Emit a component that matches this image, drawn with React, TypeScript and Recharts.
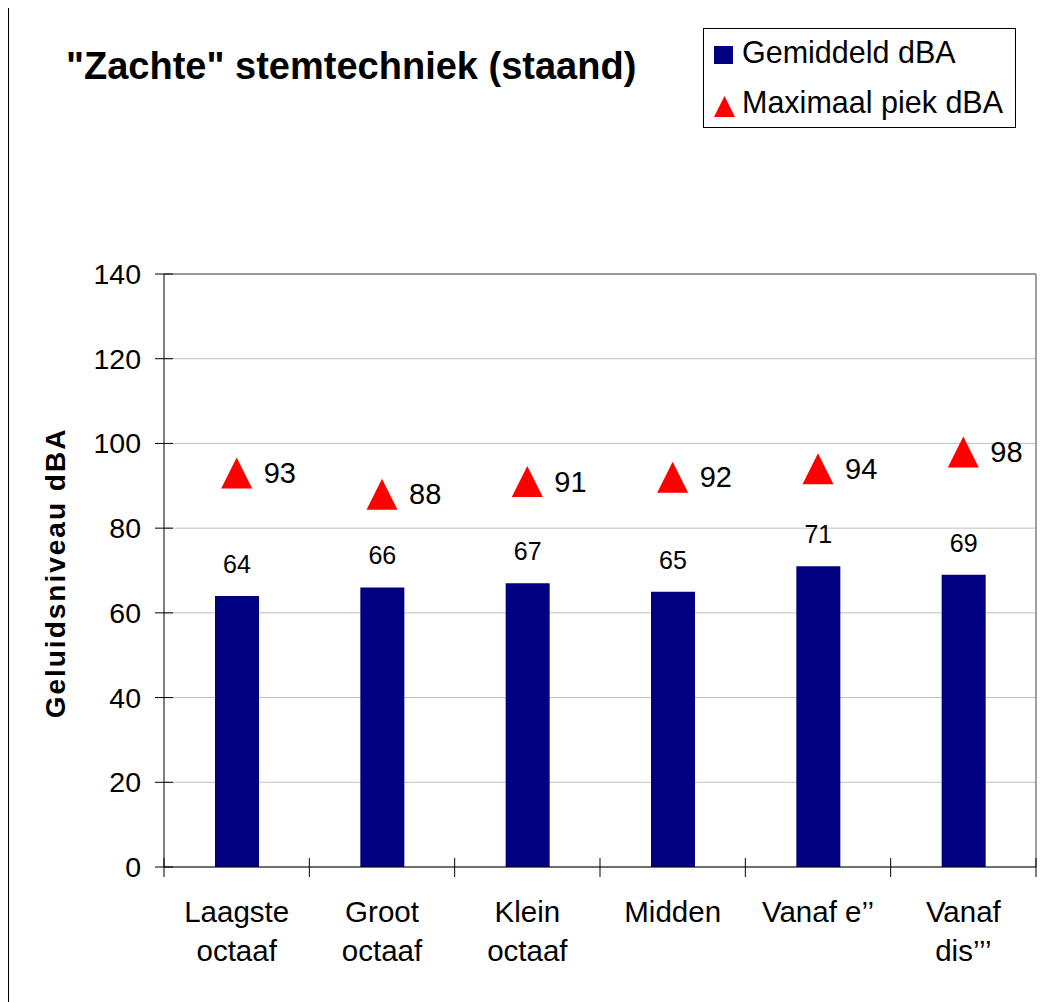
import React from 'react';
import {
  ComposedChart,
  Bar,
  Line,
  XAxis,
  YAxis,
  CartesianGrid,
  LabelList,
} from 'recharts';

const categories = [
  'Laagste\noctaaf',
  'Groot\noctaaf',
  'Klein\noctaaf',
  'Midden',
  'Vanaf e\u2019\u2019',
  'Vanaf\ndis\u2019\u2019\u2019',
];
const gemiddeld = [64, 66, 67, 65, 71, 69];
const maximaal = [93, 88, 91, 92, 94, 98];
const yTicks = [0, 20, 40, 60, 80, 100, 120, 140];

const data = categories.map((name, i) => ({
  name,
  gem: gemiddeld[i],
  max: maximaal[i],
}));

const FONT = '"Liberation Sans", Arial, Helvetica, sans-serif';
const NAVY = '#000080';
const RED = '#FF0000';

const Y_TICK_SIZE = 9;
const Y_TICK_MARGIN = 14;

const YTick = (props: any) => {
  const { x, y, payload } = props;
  const ax = x + Y_TICK_SIZE + Y_TICK_MARGIN;
  return (
    <g>
      <line x1={ax - 9} x2={ax + 9} y1={y} y2={y} stroke="#000" strokeWidth={1} />
      <text
        x={x}
        y={y}
        textAnchor="end"
        dominantBaseline="central"
        fontSize={28.5}
        fontFamily={FONT}
        fill="#000"
      >
        {payload.value}
      </text>
    </g>
  );
};

const XTick = (props: any) => {
  const { x, y, payload, index, visibleTicksCount, width } = props;
  let half = payload && typeof payload.offset === 'number' && payload.offset > 0 ? payload.offset : 0;
  if (!half && width && visibleTicksCount) half = width / visibleTicksCount / 2;
  const lines = String(payload.value).split('\n');
  return (
    <g>
      {index === 0 && (
        <line x1={x - half} x2={x - half} y1={y - 9} y2={y + 10} stroke="#000" />
      )}
      <line x1={x + half} x2={x + half} y1={y - 9} y2={y + 10} stroke="#000" />
      <text x={x} y={y + 55} textAnchor="middle" fontSize={29.5} fontFamily={FONT} fill="#000">
        {lines.map((l, i) => (
          <tspan key={i} x={x} dy={i === 0 ? 0 : 39}>
            {l}
          </tspan>
        ))}
      </text>
    </g>
  );
};

const Triangle = (props: any) => {
  const { cx, cy } = props;
  if (cx == null || cy == null) return <g />;
  const h = 15.5;
  return (
    <polygon
      points={`${cx},${cy - h} ${cx + h},${cy + h} ${cx - h},${cy + h}`}
      fill={RED}
      stroke="none"
    />
  );
};

const PeakLabel = (props: any) => {
  const { x, y, value } = props;
  return (
    <text
      x={x + 27}
      y={y}
      dominantBaseline="central"
      fontSize={29}
      fontFamily={FONT}
      fill="#000"
    >
      {value}
    </text>
  );
};

export default function App() {
  return (
    <div
      style={{
        position: 'relative',
        width: 1046,
        height: 995,
        marginTop: -1,
        borderTop: '1px solid #000',
        borderLeft: '1px solid #000',
        boxSizing: 'border-box',
        fontFamily: FONT,
        background: '#fff',
      }}
    >
      <div style={{ position: 'absolute', left: 0, top: 0 }}>
        <ComposedChart
          width={1045}
          height={994}
          data={data}
          margin={{ top: 266, right: 18, bottom: 0, left: 0 }}
        >
          <CartesianGrid vertical={false} stroke="#c0c0c0" />
          <CartesianGrid
            stroke="#808080"
            strokeWidth={1.5}
            horizontalCoordinatesGenerator={({ offset }: any) => [offset.top]}
            verticalCoordinatesGenerator={({ offset }: any) => [offset.left + offset.width]}
          />
          <XAxis
            dataKey="name"
            interval={0}
            axisLine={{ stroke: '#000' }}
            tickLine={false}
            tickSize={0}
            tickMargin={0}
            height={135}
            tick={<XTick />}
          />
          <YAxis
            domain={[0, 140]}
            ticks={yTicks}
            interval={0}
            width={155}
            axisLine={{ stroke: '#000' }}
            tickLine={false}
            tickSize={Y_TICK_SIZE}
            tickMargin={Y_TICK_MARGIN}
            tick={<YTick />}
          />
          <Bar dataKey="gem" fill={NAVY} barSize={44} isAnimationActive={false}>
            <LabelList
              dataKey="gem"
              position="top"
              offset={23}
              fontSize={25}
              fontFamily={FONT}
              fill="#000"
            />
          </Bar>
          <Line
            dataKey="max"
            stroke="none"
            strokeWidth={0}
            dot={<Triangle />}
            activeDot={false}
            isAnimationActive={false}
          >
            <LabelList dataKey="max" content={<PeakLabel />} />
          </Line>
        </ComposedChart>
      </div>

      <div
        style={{
          position: 'absolute',
          left: 57,
          top: 39,
          fontSize: 38,
          lineHeight: '38px',
          fontWeight: 'bold',
          whiteSpace: 'nowrap',
          color: '#000',
        }}
      >
        "Zachte" stemtechniek (staand)
      </div>

      <div
        style={{
          position: 'absolute',
          left: 46.5,
          top: 564.5,
          transform: 'translate(-50%, -50%) rotate(-90deg)',
          fontSize: 28,
          lineHeight: '28px',
          fontWeight: 'bold',
          letterSpacing: 2,
          whiteSpace: 'nowrap',
          color: '#000',
        }}
      >
        Geluidsniveau dBA
      </div>

      <div
        style={{
          position: 'absolute',
          left: 694,
          top: 20,
          width: 313,
          height: 100,
          border: '1px solid #000',
          boxSizing: 'border-box',
          background: '#fff',
        }}
      >
        <div
          style={{
            position: 'absolute',
            left: 10,
            top: 17,
            width: 19,
            height: 18,
            background: NAVY,
          }}
        />
        <div
          style={{
            position: 'absolute',
            left: 38,
            top: 8.2,
            fontSize: 30.5,
            lineHeight: '30.5px',
            whiteSpace: 'nowrap',
            color: '#000',
          }}
        >
          Gemiddeld dBA
        </div>
        <svg
          width={21}
          height={21}
          style={{ position: 'absolute', left: 10, top: 67 }}
        >
          <polygon points="10.5,0 21,21 0,21" fill={RED} />
        </svg>
        <div
          style={{
            position: 'absolute',
            left: 38,
            top: 57.9,
            fontSize: 30.5,
            lineHeight: '30.5px',
            whiteSpace: 'nowrap',
            color: '#000',
          }}
        >
          Maximaal piek dBA
        </div>
      </div>
    </div>
  );
}
